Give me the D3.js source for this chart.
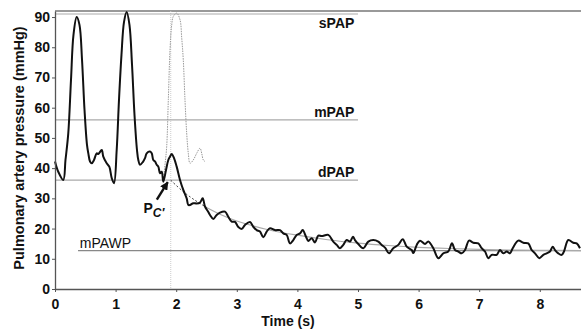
<!DOCTYPE html>
<html>
<head>
<meta charset="utf-8">
<script src="https://cdn.jsdelivr.net/npm/d3@7"></script>
<style>
  body { margin: 0; background: #fff; }
  text { font-family: "Liberation Sans", Arial, sans-serif; fill: #111; }
</style>
</head>
<body>
<script>
var timeS = [0, 0.054, 0.137, 0.173, 0.219, 0.264, 0.305, 0.358, 0.404, 0.446, 0.487, 0.528, 0.550, 0.578, 0.606,
  0.644, 0.688, 0.715, 0.771, 0.797, 0.853, 0.896, 0.936, 0.974, 1.018, 1.056, 1.097, 1.139, 1.183, 1.229, 1.271,
  1.312, 1.353, 1.375, 1.403, 1.452, 1.485, 1.513, 1.568, 1.596, 1.622, 1.650, 1.678, 1.705, 1.733, 1.761, 1.787,
  1.832, 1.870, 1.898, 1.926, 1.964, 2.008, 2.063, 2.117, 2.173, 2.200, 2.228, 2.282, 2.338, 2.393, 2.437, 2.475,
  2.530, 2.558, 2.612, 2.668, 2.723, 2.805, 2.860, 2.916, 2.970, 3.025, 3.081, 3.135, 3.218, 3.272, 3.328, 3.383,
  3.437, 3.493, 3.548, 3.630, 3.713, 3.767, 3.823, 3.878, 3.932, 3.988, 4.043, 4.087, 4.142, 4.180, 4.236, 4.290,
  4.345, 4.401, 4.510, 4.592, 4.649, 4.703, 4.757, 4.813, 4.868, 4.917, 4.950, 5.005, 5.087, 5.170, 5.252, 5.335,
  5.391, 5.446, 5.512, 5.582, 5.665, 5.738, 5.804, 5.886, 5.913, 5.969, 6.023, 6.106, 6.160, 6.243, 6.325, 6.408,
  6.490, 6.551, 6.601, 6.655, 6.711, 6.766, 6.832, 6.903, 6.985, 7.041, 7.096, 7.150, 7.206, 7.289, 7.343, 7.398,
  7.454, 7.508, 7.553, 7.645, 7.728, 7.810, 7.866, 7.921, 7.992, 8.058, 8.114, 8.168, 8.213, 8.251, 8.305, 8.361,
  8.399, 8.470, 8.553, 8.609, 8.663];
var pressure = [42.2, 38.8, 36.1, 42.7, 51.5, 69.2, 84.1, 90.0, 87.4, 75.8, 59.3, 47.7, 44.9, 42.2, 41.6,
  42.7, 44.9, 44.7, 46.0, 43.8, 41.6, 40.5, 36.7, 35.0, 46.0, 62.6, 77.5, 88.4, 91.7, 87.4, 74.2,
  57.6, 46.0, 42.7, 41.1, 42.1, 43.3, 44.9, 45.5, 44.9, 42.7, 42.2, 41.1, 40.5, 38.3, 38.8, 35.5,
  39.4, 42.7, 43.8, 44.7, 43.3, 40.5, 36.1, 32.8, 30.0, 27.8, 27.8, 28.4, 28.3, 28.6, 30.0, 27.3,
  25.5, 24.5, 23.2, 24.5, 25.3, 25.6, 23.9, 22.3, 22.2, 20.5, 19.9, 21.2, 22.2, 20.6, 19.5, 19.0,
  17.1, 19.0, 20.1, 19.5, 19.5, 18.4, 17.9, 15.1, 16.2, 17.9, 18.4, 19.5, 17.3, 15.9, 16.8, 15.4,
  17.7, 17.5, 17.9, 15.7, 14.6, 13.5, 14.6, 16.2, 15.7, 17.3, 16.2, 14.9, 13.5, 15.7, 16.2, 15.7,
  14.6, 13.7, 11.8, 13.5, 14.6, 16.5, 14.0, 12.9, 11.9, 14.6, 16.0, 14.9, 15.7, 13.5, 10.2, 11.8,
  12.4, 15.1, 12.9, 12.4, 11.8, 12.9, 16.0, 15.3, 15.1, 13.5, 12.4, 10.2, 11.3, 11.3, 12.9, 11.8,
  12.4, 11.8, 13.5, 16.0, 15.3, 15.1, 12.9, 11.8, 10.2, 11.3, 11.8, 12.4, 14.0, 12.9, 11.8, 11.3,
  12.4, 16.2, 15.3, 15.1, 13.5];

// un-occluded beat (grey dotted)
var beatT = [1.787, 1.815, 1.843, 1.870, 1.898, 1.926, 1.952, 2.008, 2.063, 2.091, 2.117, 2.145, 2.173, 2.200,
  2.228, 2.282, 2.338, 2.393, 2.421, 2.447, 2.475];
var beatP = [36.1, 41.1, 47.1, 62.6, 79.1, 87.4, 90.2, 91.3, 89.1, 83.1, 75.8, 62.6, 51.6, 44.9,
  41.6, 42.7, 44.9, 46.6, 44.9, 42.7, 42.2];

// exponential decay fit from Pc'
var fitT = [1.91, 2.1, 2.3, 2.5, 2.75, 3.0, 3.5, 4.0, 4.5, 5.0, 5.5, 6.0, 6.5, 7.0, 7.5, 8.0, 8.68];
var fitP = [36.0, 32.5, 29.5, 27.0, 24.5, 22.5, 19.7, 17.8, 16.3, 15.2, 14.4, 13.8, 13.4, 13.1, 12.9, 12.8, 12.7];

// reference pressures
var refNames = ["sPAP", "mPAP", "dPAP", "mPAWP"];
var refValues = [91, 56, 36, 12.7];
var refStart = [0, 0, 0, 0.38];
var refEnd = [5.0, 5.0, 5.0, 8.68];

var occlusionT = 1.91, pcT = 1.91, pcP = 36;

var xTicks = [0, 1, 2, 3, 4, 5, 6, 7, 8];
var yTicks = [0, 10, 20, 30, 40, 50, 60, 70, 80, 90];

var width = 581, height = 332;
var x = d3.scaleLinear().domain([0, 8.68]).range([55, 581]);
var y = d3.scaleLinear().domain([0, 92]).range([289, 11]);

var svg = d3.select("body").append("svg")
    .attr("width", width)
    .attr("height", height);

// top frame line
svg.append("line")
    .attr("x1", x(0)).attr("x2", width)
    .attr("y1", y(92)).attr("y2", y(92))
    .attr("stroke", "#777").attr("stroke-width", 1.3);

// occlusion marker
svg.append("line")
    .attr("x1", x(occlusionT)).attr("x2", x(occlusionT))
    .attr("y1", y(92)).attr("y2", y(0))
    .attr("stroke", "#ccc").attr("stroke-width", 1)
    .attr("stroke-dasharray", "1,1");

// reference lines + labels
refValues.forEach(function(v, i) {
    svg.append("line")
        .attr("x1", x(refStart[i])).attr("x2", x(refEnd[i]))
        .attr("y1", y(v)).attr("y2", y(v))
        .attr("stroke", i == 3 ? "#888" : "#aaa").attr("stroke-width", 1.2);
});
svg.selectAll("text.ref")
    .data(refNames.slice(0, 3))
    .enter().append("text")
    .attr("class", "ref")
    .attr("x", x(4.94))
    .attr("y", function(d, i) { return y(refValues[i]) + [14, -3, -3][i]; })
    .attr("text-anchor", "end")
    .style("font-size", "14px").style("font-weight", "bold")
    .text(function(d) { return d; });
svg.append("text")
    .attr("x", x(0.41)).attr("y", y(refValues[3]) - 3)
    .style("font-size", "14px")
    .text(refNames[3]);

var line = d3.line()
    .x(function(d) { return x(d[0]); })
    .y(function(d) { return y(d[1]); })
    .curve(d3.curveCatmullRom.alpha(0.5));

var fit = d3.zip(fitT, fitP);
svg.append("path")
    .attr("d", line(fit.filter(function(d) { return d[0] >= 2.4; })))
    .attr("fill", "none").attr("stroke", "#aaa").attr("stroke-width", 1.2);
svg.append("path")
    .attr("d", line(fit.filter(function(d) { return d[0] <= 2.5; })))
    .attr("fill", "none").attr("stroke", "#444").attr("stroke-width", 1)
    .attr("stroke-dasharray", "2,2");

svg.append("path")
    .attr("d", line(d3.zip(beatT, beatP)))
    .attr("fill", "none").attr("stroke", "#999").attr("stroke-width", 1)
    .attr("stroke-dasharray", "1.5,1");

svg.append("path")
    .attr("d", line(d3.zip(timeS, pressure)))
    .attr("fill", "none").attr("stroke", "#111").attr("stroke-width", 2)
    .attr("stroke-linejoin", "round");

// Pc' arrow and label
svg.append("defs").append("marker")
    .attr("id", "head").attr("viewBox", "0 0 10 10")
    .attr("refX", 9).attr("refY", 5)
    .attr("markerWidth", 3.5).attr("markerHeight", 3.5)
    .attr("orient", "auto")
    .append("path").attr("d", "M0,0L10,5L0,10z").attr("fill", "#111");
svg.append("line")
    .attr("x1", x(1.68)).attr("y1", y(29.6))
    .attr("x2", x(pcT) - 3).attr("y2", y(pcP) + 2)
    .attr("stroke", "#111").attr("stroke-width", 2.4)
    .attr("marker-end", "url(#head)");
var pc = svg.append("text")
    .attr("x", 143.5).attr("y", 213)
    .style("font-size", "14px").style("font-weight", "bold");
pc.append("tspan").text("P");
pc.append("tspan").attr("dy", 3.5).style("font-size", "12px").style("font-style", "italic").text("C\u2032");

// axes
var xAxis = svg.append("g")
    .attr("transform", "translate(0," + y(0) + ")")
    .call(d3.axisBottom(x).tickValues(xTicks).tickFormat(d3.format("d")).tickSize(3).tickSizeOuter(0));
var yAxis = svg.append("g")
    .attr("transform", "translate(" + x(0) + ",0)")
    .call(d3.axisLeft(y).tickValues(yTicks).tickSize(3).tickSizeOuter(0));
[xAxis, yAxis].forEach(function(g) {
    g.select(".domain").attr("stroke", "#555").attr("stroke-width", 1.3);
    g.selectAll(".tick line").attr("stroke", "#555");
    g.selectAll("text").style("font-size", "14px").style("font-weight", "bold")
        .style("font-family", "Liberation Sans, Arial, sans-serif").attr("fill", "#111");
});
xAxis.selectAll("text").attr("y", 20).attr("dy", 0);
yAxis.selectAll("text").attr("x", -5);

svg.append("text")
    .attr("x", 288).attr("y", 326)
    .attr("text-anchor", "middle")
    .style("font-size", "14px").style("font-weight", "bold")
    .text("Time (s)");
svg.append("text")
    .attr("transform", "translate(24,148) rotate(-90)")
    .attr("text-anchor", "middle")
    .style("font-size", "14.5px").style("font-weight", "bold")
    .text("Pulmonary artery pressure (mmHg)");
</script>
</body>
</html>
